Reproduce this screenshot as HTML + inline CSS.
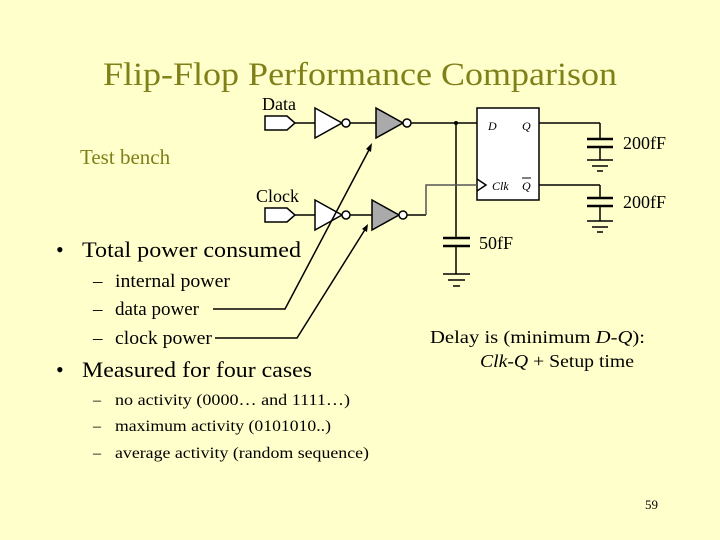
<!DOCTYPE html>
<html><head><meta charset="utf-8"><style>
html,body{margin:0;padding:0;background:#FFFFCC;}
svg{display:block;}
text{font-family:"Liberation Serif","Times New Roman",Times,"DejaVu Serif",serif;}
</style></head><body>
<svg width="720" height="540" viewBox="0 0 720 540" xmlns="http://www.w3.org/2000/svg" font-family="Liberation Serif, Times New Roman, serif">
<rect width="720" height="540" fill="#FFFFCC"/>
<text x="103" y="85" font-size="33" fill="#808019" textLength="514" lengthAdjust="spacingAndGlyphs">Flip-Flop Performance Comparison</text>
<text x="80" y="164" font-size="21" fill="#808019">Test bench</text>
<g fill="#000">
<text x="262" y="110" font-size="18">Data</text>
<text x="256" y="202" font-size="18">Clock</text>
<text x="56" y="257" font-size="22">•</text>
<text x="82" y="257" font-size="22" textLength="219" lengthAdjust="spacingAndGlyphs">Total power consumed</text>
<text x="93" y="287" font-size="19">–</text><text x="115" y="287" font-size="19" textLength="115" lengthAdjust="spacingAndGlyphs">internal power</text>
<text x="93" y="315" font-size="19">–</text><text x="115" y="315" font-size="19" textLength="84" lengthAdjust="spacingAndGlyphs">data power</text>
<text x="93" y="344" font-size="19">–</text><text x="115" y="344" font-size="19" textLength="97" lengthAdjust="spacingAndGlyphs">clock power</text>
<text x="56" y="377" font-size="22">•</text>
<text x="82" y="377" font-size="22" textLength="230" lengthAdjust="spacingAndGlyphs">Measured for four cases</text>
<text x="93" y="405" font-size="16">–</text><text x="115" y="405" font-size="16" textLength="235" lengthAdjust="spacingAndGlyphs">no activity (0000… and 1111…)</text>
<text x="93" y="431" font-size="16">–</text><text x="115" y="431" font-size="16" textLength="216" lengthAdjust="spacingAndGlyphs">maximum activity (0101010..)</text>
<text x="93" y="458" font-size="16">–</text><text x="115" y="458" font-size="16" textLength="254" lengthAdjust="spacingAndGlyphs">average activity (random sequence)</text>
<text x="430" y="343" font-size="18" textLength="215" lengthAdjust="spacingAndGlyphs">Delay  is (minimum <tspan font-style="italic">D-Q</tspan>):</text>
<text x="480" y="367" font-size="18" textLength="154" lengthAdjust="spacingAndGlyphs"><tspan font-style="italic">Clk-Q</tspan> + Setup time</text>
<text x="645" y="509" font-size="13">59</text>
<text x="623" y="149" font-size="18">200fF</text>
<text x="623" y="208" font-size="18">200fF</text>
<text x="479" y="249" font-size="18">50fF</text>
</g>
<g stroke="#000" stroke-width="1.5" fill="none">
<polygon points="265,116 287,116 295,123 287,130 265,130" fill="#fff"/>
<line x1="295" y1="123" x2="315" y2="123"/>
<polygon points="315,108 315,138 342,123" fill="#fff"/>
<circle cx="346" cy="123" r="4" fill="#fff"/>
<line x1="350" y1="123" x2="376" y2="123"/>
<polygon points="376,108 376,138 403,123" fill="#aaa"/>
<circle cx="407" cy="123" r="4" fill="#fff"/>
<line x1="411" y1="123" x2="477" y2="123"/>
<line x1="456" y1="123" x2="456" y2="238"/>
<line x1="443" y1="238" x2="470" y2="238" stroke-width="2.5"/>
<line x1="443" y1="246" x2="470" y2="246" stroke-width="2.5"/>
<line x1="456" y1="246" x2="456" y2="274"/>
<line x1="443" y1="274" x2="470" y2="274"/>
<line x1="448" y1="280" x2="465" y2="280"/>
<line x1="453" y1="286" x2="460" y2="286"/>
<rect x="477" y="108" width="62" height="92" fill="#fff"/>
<polyline points="477,179 486,185 477,191"/>
<line x1="539" y1="123" x2="600" y2="123"/>
<line x1="600" y1="123" x2="600" y2="139"/>
<line x1="587" y1="139" x2="613" y2="139" stroke-width="2.5"/>
<line x1="587" y1="147" x2="613" y2="147" stroke-width="2.5"/>
<line x1="600" y1="147" x2="600" y2="160"/>
<line x1="587" y1="160" x2="613" y2="160"/>
<line x1="592" y1="166" x2="608" y2="166"/>
<line x1="597" y1="171" x2="603" y2="171"/>
<line x1="539" y1="185" x2="600" y2="185"/>
<line x1="600" y1="185" x2="600" y2="198"/>
<line x1="587" y1="198" x2="613" y2="198" stroke-width="2.5"/>
<line x1="587" y1="206" x2="613" y2="206" stroke-width="2.5"/>
<line x1="600" y1="206" x2="600" y2="221"/>
<line x1="587" y1="221" x2="613" y2="221"/>
<line x1="592" y1="227" x2="608" y2="227"/>
<line x1="597" y1="232" x2="603" y2="232"/>
<polygon points="265,208 287,208 295,215 287,222 265,222" fill="#fff"/>
<line x1="295" y1="215" x2="315" y2="215"/>
<polygon points="315,200 315,230 342,215" fill="#fff"/>
<circle cx="346" cy="215" r="4" fill="#fff"/>
<line x1="350" y1="215" x2="372" y2="215"/>
<polygon points="372,200 372,230 399,215" fill="#aaa"/>
<circle cx="403" cy="215" r="4" fill="#fff"/>
<line x1="407" y1="215" x2="426" y2="215"/>
<polyline points="426,215 426,185 477,185" stroke="#555"/>
<polyline points="213,309 285,309 370,148"/>
<polyline points="215,338 297,338 366,228"/>
</g>
<g fill="#000" font-style="italic" font-size="12">
<text x="488" y="130">D</text>
<text x="522" y="130">Q</text>
<text x="492" y="190">Clk</text>
<text x="522" y="190">Q</text>
</g>
<line x1="522" y1="178" x2="531" y2="178" stroke="#000" stroke-width="1"/>
<polygon points="372,143 371,152 366,149" fill="#000"/>
<polygon points="368,224 367,232 362,229" fill="#000"/>
<circle cx="456" cy="123" r="2" fill="#000"/>
</svg>
</body></html>
